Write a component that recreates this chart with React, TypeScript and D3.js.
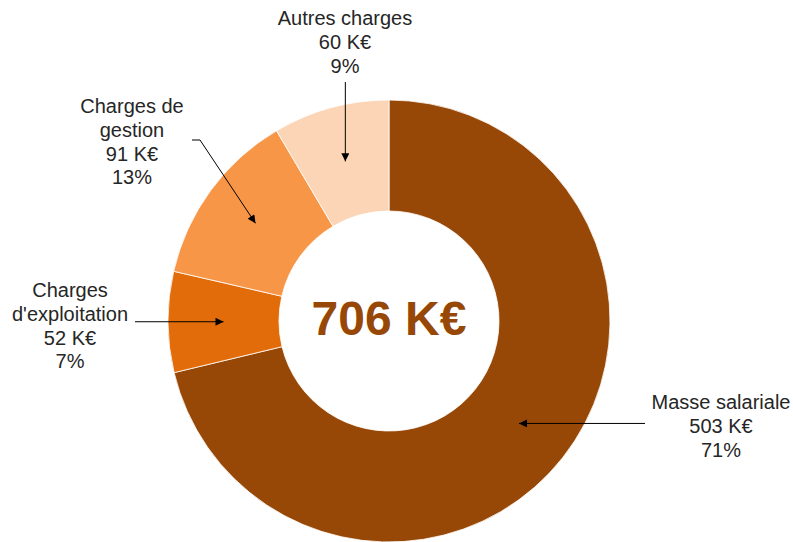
import React from "react";
import * as d3 from "d3";

const categories = ["Masse salariale", "Charges d'exploitation", "Charges de gestion", "Autres charges"];
const values = [503, 52, 91, 60];
const valueLabels = ["503 K€", "52 K€", "91 K€", "60 K€"];
const percentLabels = ["71%", "7%", "13%", "9%"];
const totalLabel = "706 K€";
const colors = ["#974806", "#E36C0A", "#F79646", "#FBD5B5"];

// label layout: text lines, anchor x, first baseline, arrow start path (before centroid)
const labelLayout: Record<string, { lines: string[]; x: number; y: number; arrowFrom: (c: [number, number]) => [number, number][] }> = {
  "Masse salariale": {
    lines: ["Masse salariale"], x: 721, y: 409,
    arrowFrom: (c) => [[645, c[1]]],
  },
  "Charges d'exploitation": {
    lines: ["Charges", "d'exploitation"], x: 70, y: 297,
    arrowFrom: (c) => [[135, c[1]]],
  },
  "Charges de gestion": {
    lines: ["Charges de", "gestion"], x: 132, y: 113,
    arrowFrom: () => [[192, 140], [200, 140]],
  },
  "Autres charges": {
    lines: ["Autres charges"], x: 345, y: 25,
    arrowFrom: (c) => [[c[0], 82]],
  },
};

const W = 793, H = 542;
const cx = 389, cy = 321;
const outerR = 221, innerR = 110;
const lineH = 23.8;

export default function App() {
  const pie = d3.pie<number>().sort(null).value((d) => d).startAngle(0).endAngle(2 * Math.PI);
  const arcs = pie(values);
  const arc = d3.arc<d3.PieArcDatum<number>>().innerRadius(innerR).outerRadius(outerR);
  const line = d3.line();

  return (
    <div style={{ position: "fixed", left: 0, top: 0 }}>
      <svg width={W} height={H} style={{ display: "block", fontFamily: "'Liberation Sans', Arial, sans-serif" }}>
        <defs>
          <marker id="arrow" viewBox="0 0 10 10" refX="10" refY="5" markerWidth="11" markerHeight="8" markerUnits="userSpaceOnUse" orient="auto">
            <path d="M0,0 L10,5 L0,10 Z" fill="#000" />
          </marker>
        </defs>
        <rect width={W} height={H} fill="#fff" />
        <g transform={`translate(${cx},${cy})`}>
          {arcs.map((a, i) => (
            <path key={i} d={arc(a) || ""} fill={colors[i]} stroke="#fff" strokeWidth={0.8} />
          ))}
          <text x={0} y={14} textAnchor="middle" fontSize={48} fontWeight="bold" fill="#974806">
            {totalLabel}
          </text>
        </g>
        {arcs.map((a, i) => {
          const cat = categories[i];
          const lay = labelLayout[cat];
          const c = arc.centroid(a);
          const tip: [number, number] = [cx + c[0], cy + c[1]];
          const pts = [...lay.arrowFrom(tip), tip];
          const lines = [...lay.lines, valueLabels[i], percentLabels[i]];
          return (
            <g key={cat}>
              <path d={line(pts) || ""} fill="none" stroke="#000" strokeWidth={1} markerEnd="url(#arrow)" />
              <text textAnchor="middle" fontSize={20} fill="#262626">
                {lines.map((t, j) => (
                  <tspan key={j} x={lay.x} y={lay.y + j * lineH}>{t}</tspan>
                ))}
              </text>
            </g>
          );
        })}
      </svg>
    </div>
  );
}
